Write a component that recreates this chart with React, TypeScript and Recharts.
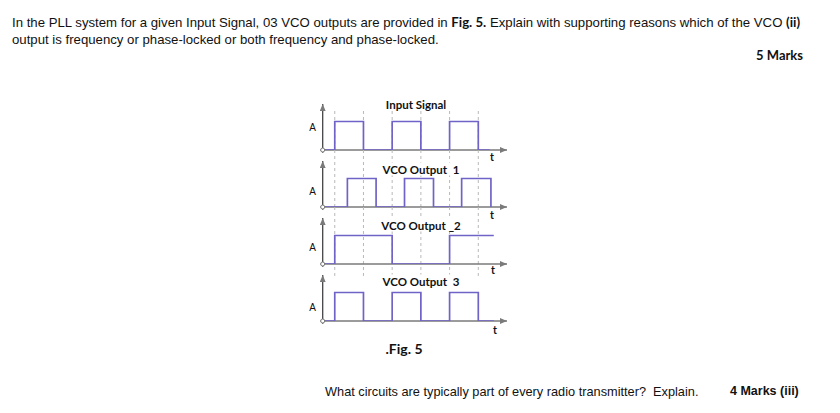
import React from 'react';
import { LineChart, Line, XAxis, YAxis, ReferenceLine, ReferenceDot } from 'recharts';

// half-period edges, in units of t
const gridTimes = [0, 1, 2, 3, 4, 5];

const inputSignal = [
  { t: -0.42, v: 0 },
  { t: 0, v: 1 },
  { t: 1, v: 0 },
  { t: 2, v: 1 },
  { t: 3, v: 0 },
  { t: 4, v: 1 },
  { t: 5, v: 0 },
  { t: 5.4, v: 0 },
];

const vcoOutput1 = [
  { t: -0.42, v: 0 },
  { t: 0.44, v: 1 },
  { t: 1.44, v: 0 },
  { t: 2.43, v: 1 },
  { t: 3.44, v: 0 },
  { t: 4.42, v: 1 },
  { t: 5.44, v: 0 },
  { t: 5.45, v: 0 },
];

const vcoOutput2 = [
  { t: -0.42, v: 0 },
  { t: 0, v: 1 },
  { t: 2, v: 0 },
  { t: 4, v: 1 },
  { t: 5.54, v: 1 },
];

const vcoOutput3 = [
  { t: -0.42, v: 0 },
  { t: 0, v: 1 },
  { t: 1, v: 0 },
  { t: 2, v: 1 },
  { t: 3, v: 0 },
  { t: 4, v: 1 },
  { t: 5, v: 0 },
  { t: 5.54, v: 0 },
];

const panelTitles = ['Input Signal', 'VCO Output  1', 'VCO Output _2', 'VCO Output  3'];

const PURPLE = '#7063c8';
const AXIS = '#7a7a7a';
const GRID = '#b8b8b8';

const calibri = '"Lato", "Open Sans", sans-serif';
const arial = '"Liberation Sans", Arial, sans-serif';

interface PanelProps {
  id: string;
  data: { t: number; v: number }[];
  baseline: number;
  gridFrom: number;
  gridTo: number;
}

const Arrow = (id: string) => (
  <defs>
    <marker id={id} markerUnits="userSpaceOnUse" markerWidth={8} markerHeight={6} refX={7} refY={3} orient="auto">
      <path d="M0,0 L7,3 L0,6 z" fill={AXIS} />
    </marker>
  </defs>
);

const axisShape = (markerId: string, color: string) => (p: any) => (
  <line x1={p.x1} y1={p.y1} x2={p.x2} y2={p.y2} stroke={color} strokeWidth={1.3} markerEnd={`url(#${markerId})`} />
);

const SignalPanel = ({ id, data, baseline, gridFrom, gridTo }: PanelProps) => (
  <div style={{ position: 'absolute', left: 300, top: baseline - 67 }}>
    <LineChart width={220} height={80} data={data} margin={{ top: 10, right: 13, bottom: 13, left: 22.7 }}>
      {Arrow(id)}
      <XAxis type="number" dataKey="t" domain={[-0.42, 6]} hide allowDataOverflow />
      <YAxis type="number" domain={[0, 2]} hide allowDataOverflow />
      {gridTimes.map((g) => (
        <ReferenceLine
          key={g}
          segment={[{ x: g, y: gridFrom }, { x: g, y: gridTo }]}
          stroke={GRID}
          strokeDasharray="3 3"
          ifOverflow="visible"
        />
      ))}
      <ReferenceLine
        segment={[{ x: -0.5, y: 0 }, { x: 6, y: 0 }]}
        ifOverflow="visible"
        shape={axisShape(id, AXIS)}
      />
      <ReferenceLine
        segment={[{ x: -0.42, y: -0.1 }, { x: -0.42, y: 1.61 }]}
        ifOverflow="visible"
        shape={axisShape(id, '#444')}
      />
      <Line
        dataKey="v"
        type="stepAfter"
        stroke={PURPLE}
        strokeWidth={1.7}
        dot={false}
        isAnimationActive={false}
      />
      <ReferenceDot x={-0.42} y={0} r={2} fill="#fff" stroke={AXIS} ifOverflow="visible" />
    </LineChart>
  </div>
);

const label = (text: string, x: number, y: number, size: number, extra: React.CSSProperties = {}) => (
  <div
    style={{
      position: 'absolute',
      left: x,
      top: y,
      transform: 'translate(-50%, -50%)',
      fontFamily: calibri,
      fontWeight: 700,
      fontSize: size,
      whiteSpace: 'pre',
      color: '#111',
      ...extra,
    }}
  >
    {text}
  </div>
);

const titleBg: React.CSSProperties = { background: '#fff', padding: '0 1px', lineHeight: '13px' };

const App = () => {
  return (
    <div style={{ position: 'absolute', left: 0, top: 0, width: 840, height: 413, background: '#fff', overflow: 'hidden' }}>
      <div style={{ position: 'absolute', left: 12, top: 14, fontFamily: arial, fontSize: 13.2, lineHeight: '17px', color: '#111', whiteSpace: 'nowrap' }}>
        In the PLL system for a given Input Signal, 03 VCO outputs are provided in{' '}
        <b style={{ fontFamily: calibri }}>Fig. 5.</b> Explain with supporting reasons which of the VCO{' '}
        <b style={{ fontFamily: calibri }}>(ii)</b>
        <br />
        output is frequency or phase-locked or both frequency and phase-locked.
      </div>
      <div style={{ position: 'absolute', right: 37, top: 47, fontFamily: calibri, fontWeight: 700, fontSize: 13, color: '#111' }}>
        5 Marks
      </div>

      <SignalPanel id="a0" data={inputSignal} baseline={150} gridFrom={0} gridTo={1.37} />
      <SignalPanel id="a1" data={vcoOutput1} baseline={207} gridFrom={0} gridTo={2} />
      <SignalPanel id="a2" data={vcoOutput2} baseline={264} gridFrom={0} gridTo={2} />
      <SignalPanel id="a3" data={vcoOutput3} baseline={321} gridFrom={1.58} gridTo={2} />

      {label(panelTitles[0], 416, 104, 11.5, titleBg)}
      {label(panelTitles[1], 421, 169, 11.5, titleBg)}
      {label(panelTitles[2], 421, 225, 11.5, titleBg)}
      {label(panelTitles[3], 421, 281, 11.5, titleBg)}

      {label('A', 312.5, 127, 10, { fontFamily: arial, fontWeight: 400 })}
      {label('A', 312.5, 191, 10, { fontFamily: arial, fontWeight: 400 })}
      {label('A', 312.5, 247, 10, { fontFamily: arial, fontWeight: 400 })}
      {label('A', 312.5, 307, 10, { fontFamily: arial, fontWeight: 400 })}

      {label('t', 492, 157, 10.5)}
      {label('t', 492, 215, 10.5)}
      {label('t', 493, 270, 10.5)}
      {label('t', 495, 330, 10.5)}

      {label('.Fig. 5', 404, 348, 14)}

      <div style={{ position: 'absolute', left: 325, top: 384, fontFamily: arial, fontSize: 12.75, color: '#111', whiteSpace: 'pre' }}>
        What circuits are typically part of every radio transmitter?  Explain.
      </div>
      <div style={{ position: 'absolute', left: 730, top: 384, fontFamily: arial, fontWeight: 700, fontSize: 12.5, color: '#111', whiteSpace: 'pre' }}>
        4 Marks (iii)
      </div>
    </div>
  );
};

export default App;
